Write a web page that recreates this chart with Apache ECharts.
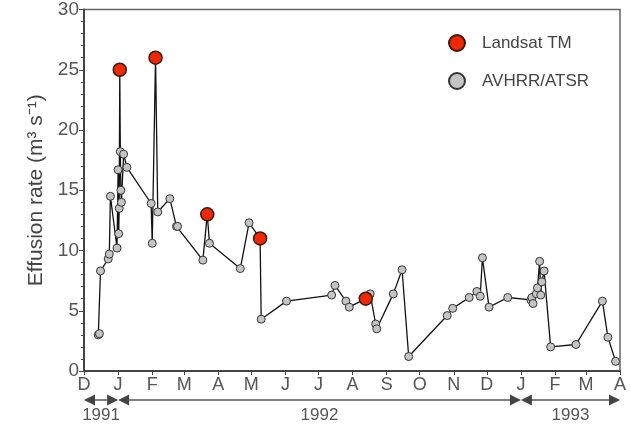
<!DOCTYPE html>
<html>
<head>
<meta charset="utf-8">
<script src="https://cdn.jsdelivr.net/npm/echarts@6/dist/echarts.min.js"></script>
<style>
  html, body { margin: 0; padding: 0; background: #fff; }
  .chart { width: 631px; height: 428px; }
</style>
</head>
<body>
<div class="chart"></div>
<script>
// 喷发速率时间序列 (Landsat TM + AVHRR/ATSR)
var obsDates = [
  '1991-12-14', '1991-12-15', '1991-12-16', '1991-12-23', '1991-12-24', '1991-12-25',
  '1991-12-31', '1992-01-01', '1992-01-01 12:00', '1992-01-02', '1992-01-02 12:00',
  '1992-01-03', '1992-01-03 12:00', '1992-01-04', '1992-01-06', '1992-01-09',
  '1992-01-31', '1992-02-01', '1992-02-04', '1992-02-06', '1992-02-17', '1992-02-23',
  '1992-02-24', '1992-03-18', '1992-03-22', '1992-03-24', '1992-04-21', '1992-04-29',
  '1992-05-09', '1992-05-10', '1992-06-02', '1992-07-13', '1992-07-16', '1992-07-26',
  '1992-07-29', '1992-08-13', '1992-08-17', '1992-08-22', '1992-08-23', '1992-09-07',
  '1992-09-15', '1992-09-21', '1992-10-26', '1992-10-31', '1992-11-15', '1992-11-22',
  '1992-11-25', '1992-11-27', '1992-12-03', '1992-12-20', '1993-01-10', '1993-01-11',
  '1993-01-12', '1993-01-15', '1993-01-16', '1993-01-18', '1993-01-19', '1993-01-20',
  '1993-01-22', '1993-01-28', '1993-02-20', '1993-03-16', '1993-03-21', '1993-03-28'
];
var obsValues = [
  3.0, 3.1, 8.3, 9.3, 9.7, 14.5,
  10.2, 16.7, 11.4, 13.5, 25.0,
  18.2, 15.0, 14.0, 18.0, 16.9,
  13.9, 10.6, 26.0, 13.2, 14.3, 12.0,
  12.0, 9.2, 13.0, 10.6, 8.5, 12.3,
  11.0, 4.3, 5.8, 6.3, 7.1, 5.8,
  5.3, 6.0, 6.4, 3.9, 3.5, 6.4,
  8.4, 1.2, 4.6, 5.2, 6.1, 6.6,
  6.2, 9.4, 5.3, 6.1, 5.9, 6.1,
  5.6, 6.4, 6.9, 9.1, 6.3, 7.4,
  8.3, 2.0, 2.2, 5.8, 2.8, 0.8
];
// L = Landsat TM, A = AVHRR/ATSR
var obsSource = [
  'A', 'A', 'A', 'A', 'A', 'A',
  'A', 'A', 'A', 'A', 'L',
  'A', 'A', 'A', 'A', 'A',
  'A', 'A', 'L', 'A', 'A', 'A',
  'A', 'A', 'L', 'A', 'A', 'A',
  'L', 'A', 'A', 'A', 'A', 'A',
  'A', 'L', 'A', 'A', 'A', 'A',
  'A', 'A', 'A', 'A', 'A', 'A',
  'A', 'A', 'A', 'A', 'A', 'A',
  'A', 'A', 'A', 'A', 'A', 'A',
  'A', 'A', 'A', 'A', 'A', 'A'
];
// 月份刻度
var monthTicks = [
  '1991-12-01', '1992-01-01', '1992-02-01', '1992-03-01', '1992-04-01', '1992-05-01',
  '1992-06-01', '1992-07-01', '1992-08-01', '1992-09-01', '1992-10-01', '1992-11-01',
  '1992-12-01', '1993-01-01', '1993-02-01', '1993-03-01', '1993-04-01'
];
var monthLetters = ['D', 'J', 'F', 'M', 'A', 'M', 'J', 'J', 'A', 'S', 'O', 'N', 'D', 'J', 'F', 'M', 'A'];
// 年份箭头
var yearBounds = ['1991-12-01', '1992-01-01', '1993-01-01', '1993-04-01'];
var yearLabels = ['1991', '1992', '1993'];
var yTicks = [0, 5, 10, 15, 20, 25, 30];

(function() {
  var FONT = 'Liberation Sans, Arial, Helvetica, sans-serif';
  function ts(s) { return +echarts.time.parse(s); }

  var lineData = [], landsatData = [], avhrrData = [];
  for (var i = 0; i < obsDates.length; i++) {
    var p = [ts(obsDates[i]), obsValues[i]];
    lineData.push(p);
    if (obsSource[i] === 'L') landsatData.push(p); else avhrrData.push(p);
  }
  var tickTs = monthTicks.map(ts);

  var myChart = echarts.init(document.querySelector('.chart'));
  var option = {
    animation: false,
    textStyle: { fontFamily: FONT },
    grid: {
      left: 84, right: 11, top: 9, bottom: 57,
      show: true,
      borderColor: '#666',
      borderWidth: 1.5
    },
    legend: {
      data: ['Landsat TM', 'AVHRR/ATSR'],
      orient: 'vertical',
      left: 443,
      top: 29,
      itemGap: 20,
      itemWidth: 16,
      itemHeight: 16,
      icon: 'circle',
      textStyle: { fontSize: 17, color: '#444', fontFamily: FONT, padding: [0, 0, 0, 12] }
    },
    xAxis: {
      type: 'value',
      min: tickTs[0],
      max: tickTs[tickTs.length - 1],
      axisLine: { lineStyle: { color: '#444', width: 2 } },
      axisTick: {
        show: true, length: 4, inside: false,
        customValues: tickTs,
        lineStyle: { color: '#444', width: 1 }
      },
      axisLabel: {
        customValues: tickTs,
        fontSize: 18,
        color: '#555',
        margin: 5,
        formatter: function(v) {
          var k = tickTs.indexOf(v);
          return k >= 0 ? monthLetters[k] : '';
        }
      },
      splitLine: { show: false }
    },
    yAxis: {
      type: 'value',
      min: 0, max: 30, interval: 5,
      name: 'Effusion rate (m\u00B3 s\u207B\u00B9)',
      nameLocation: 'middle',
      nameGap: 37,
      nameTextStyle: { fontSize: 21, color: '#444', fontFamily: FONT },
      axisLine: { show: true, lineStyle: { color: '#444', width: 2 } },
      axisTick: { show: true, length: 5, lineStyle: { color: '#444' } },
      minorTick: { show: true, splitNumber: 5, length: 3, lineStyle: { color: '#444' } },
      axisLabel: {
        fontSize: 19, color: '#555', margin: 5,
        formatter: function(v) { return yTicks.indexOf(v) >= 0 ? String(v) : ''; }
      },
      splitLine: { show: false }
    },
    series: [
      {
        name: 'series',
        type: 'line',
        data: lineData,
        showSymbol: false,
        symbol: 'none',
        lineStyle: { color: '#111', width: 1.3 },
        z: 2
      },
      {
        name: 'AVHRR/ATSR',
        type: 'scatter',
        data: avhrrData,
        symbolSize: 8,
        itemStyle: { color: '#c4c4c4', borderColor: '#333', borderWidth: 1, opacity: 1 },
        z: 3
      },
      {
        name: 'Landsat TM',
        type: 'scatter',
        data: landsatData,
        symbolSize: 13,
        itemStyle: { color: '#f02800', borderColor: '#3a1a10', borderWidth: 1.5, opacity: 1 },
        z: 4
      }
    ]
  };
  myChart.setOption(option);

  // 年份双向箭头
  var y = 400, head = 11, half = 5.5;
  var gfx = [];
  for (var j = 0; j < yearLabels.length; j++) {
    var x0 = myChart.convertToPixel({ xAxisIndex: 0 }, ts(yearBounds[j]));
    var x1 = myChart.convertToPixel({ xAxisIndex: 0 }, ts(yearBounds[j + 1]));
    gfx.push({
      type: 'line',
      shape: { x1: x0 + head, y1: y, x2: x1 - head, y2: y },
      style: { stroke: '#555', lineWidth: 1.5 }
    });
    gfx.push({
      type: 'polygon',
      shape: { points: [[x0, y], [x0 + head, y - half], [x0 + head, y + half]] },
      style: { fill: '#444' }
    });
    gfx.push({
      type: 'polygon',
      shape: { points: [[x1, y], [x1 - head, y - half], [x1 - head, y + half]] },
      style: { fill: '#444' }
    });
    gfx.push({
      type: 'text',
      x: (x0 + x1) / 2,
      y: y + 15,
      style: {
        text: yearLabels[j], fill: '#555', fontSize: 17, fontFamily: FONT,
        align: 'center', verticalAlign: 'middle'
      }
    });
  }
  myChart.setOption({ graphic: gfx });

  window.addEventListener('resize', function() {
    myChart.resize();
  });
})();
</script>
</body>
</html>
